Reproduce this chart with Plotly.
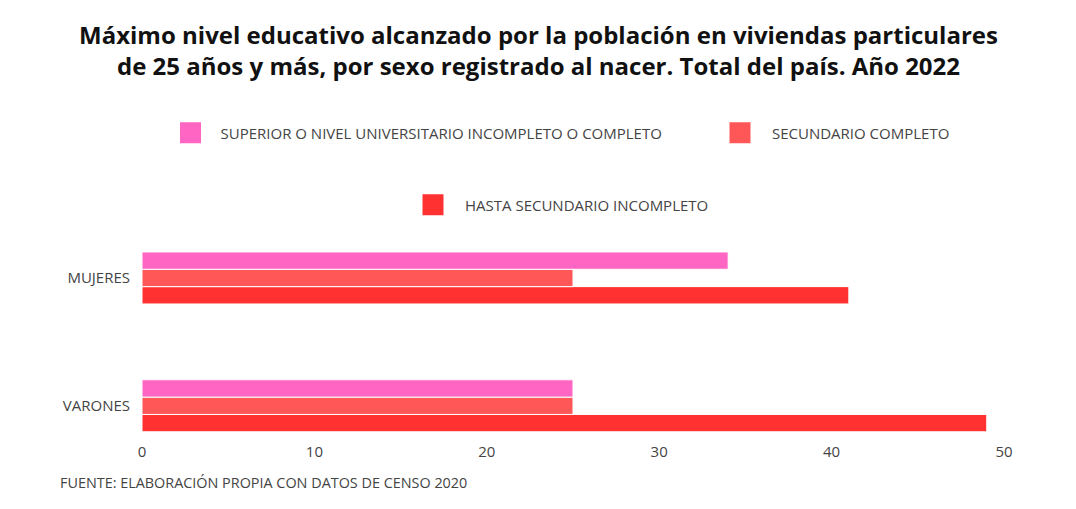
import plotly.graph_objects as go

categories = ["VARONES", "MUJERES"]
superior = [25, 34]
secundario = [25, 25]
hasta = [49, 41]
series_names = ["SUPERIOR O NIVEL UNIVERSITARIO INCOMPLETO O COMPLETO",
                "SECUNDARIO COMPLETO",
                "HASTA SECUNDARIO INCOMPLETO"]
colors = ["#FF66C4", "#FF5757", "#FF3131"]
x_ticks = [0, 10, 20, 30, 40, 50]

FONT = "Open Sans"
GRAY = "#444444"
W, H = 1076, 509

fig = go.Figure()
# bottom-to-top within each group: hasta, secundario, superior
for vals, name, col in [(hasta, series_names[2], colors[2]),
                        (secundario, series_names[1], colors[1]),
                        (superior, series_names[0], colors[0])]:
    fig.add_trace(go.Bar(
        y=categories, x=vals, orientation="h", name=name,
        marker=dict(color=col, line=dict(color="white", width=1)),
        showlegend=False, hoverinfo="x+name",
    ))

# legend entries (square markers), one legend box per entry
for name, col, leg in [(series_names[0], colors[0], "legend"),
                       (series_names[1], colors[1], "legend2"),
                       (series_names[2], colors[2], "legend3")]:
    fig.add_trace(go.Scatter(
        x=[None], y=[None], mode="markers", name=name, legend=leg,
        marker=dict(symbol="square", size=16, color=col,
                    line=dict(color=col, width=5)),
        showlegend=True,
    ))


def leg(xpx, ypx, iw=54):
    return dict(
        orientation="h", xref="container", yref="container",
        x=xpx / W, xanchor="left", y=1 - ypx / H, yanchor="middle",
        font=dict(family=FONT, size=15, color=GRAY),
        itemsizing="trace", itemwidth=iw, bgcolor="rgba(0,0,0,0)",
    )


fig.update_layout(
    width=W, height=H,
    paper_bgcolor="white", plot_bgcolor="white",
    margin=dict(l=134, r=80, t=238, b=84),
    barmode="group", bargap=0.593, bargroupgap=0,
    font=dict(family=FONT, size=15, color=GRAY),
    title=dict(
        text="Máximo nivel educativo alcanzado por la población en viviendas particulares<br>"
             "de 25 años y más, por sexo registrado al nacer. Total del país. Año 2022",
        x=530.5 / W, xanchor="center", xref="container",
        y=1 - 35.5 / H, yanchor="middle", yref="container",
        font=dict(family=FONT, size=24, color="#111111", weight="bold"),
    ),
    legend=leg(152.5, 125, 50),
    legend2=leg(700, 125),
    legend3=leg(393, 197),
    xaxis=dict(
        range=[0, 50], tickvals=x_ticks, showgrid=False, zeroline=False,
        showline=False, ticks="outside", ticklen=5, tickcolor="rgba(0,0,0,0)",
        tickfont=dict(family=FONT, size=15, color=GRAY),
        fixedrange=True,
    ),
    yaxis=dict(
        range=[-0.213, 1.25], showgrid=False, zeroline=False, showline=False,
        ticks="outside", ticklen=8, tickcolor="rgba(0,0,0,0)",
        tickfont=dict(family=FONT, size=15, color=GRAY), fixedrange=True,
    ),
    annotations=[dict(
        text="FUENTE: ELABORACIÓN PROPIA CON DATOS DE CENSO 2020",
        xref="paper", yref="paper", x=-0.097, y=-0.267,
        xanchor="left", yanchor="middle", showarrow=False,
        font=dict(family=FONT, size=14.4, color=GRAY),
    )],
)

fig.write_html("out.html")
